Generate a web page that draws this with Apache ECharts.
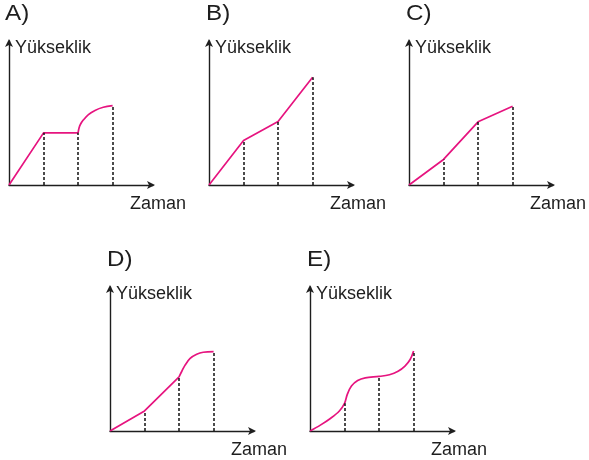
<!DOCTYPE html>
<html>
<head>
<meta charset="utf-8">
<script src="https://cdn.jsdelivr.net/npm/echarts@6/dist/echarts.min.js"></script>
<style>
  html, body { margin: 0; padding: 0; background: #fff; }
  #chart { width: 589px; height: 460px; }
</style>
</head>
<body>
<div id="chart"></div>
<script>
// Five small height-versus-time sketches (A–E)
const panelLabels = ['A)', 'B)', 'C)', 'D)', 'E)'];
const yAxisName = 'Yükseklik';
const xAxisName = 'Zaman';
const dropNodes = [1, 2, 3];

// A: straight rise, level stretch, then a rounded climb
const aStraight = [[0, 0], [1, 1.51], [2, 1.51]];
const aCurve = [[2, 1.51], [2.03, 1.66], [2.07, 1.76], [2.15, 1.88], [2.3, 2.04], [2.49, 2.16], [2.73, 2.25], [3, 2.3]];
// B: three straight pieces, the last one steepest
const bStraight = [[0, 0], [1, 1.29], [2, 1.84], [3, 3.12]];
// C: three straight pieces, the middle one steepest
const cStraight = [[0, 0], [1, 0.74], [2, 1.83], [3, 2.28]];
// D: two straight pieces, then a rounded climb
const dStraight = [[0, 0], [1, 0.58], [2, 1.57]];
const dCurve = [[2, 1.57], [2.08, 1.73], [2.17, 1.9], [2.32, 2.1], [2.51, 2.22], [2.7, 2.28], [3, 2.3]];
// E: one continuous curve
const eCurve = [[0, 0], [0.3, 0.17], [0.6, 0.37], [0.85, 0.58], [1, 0.8], [1.08, 1.06], [1.2, 1.3], [1.38, 1.46],
                [1.6, 1.54], [2, 1.58], [2.3, 1.63], [2.55, 1.73], [2.75, 1.88], [2.9, 2.07], [3, 2.32]];

const panels = [
  { straight: aStraight, curve: aCurve },
  { straight: bStraight, curve: null },
  { straight: cStraight, curve: null },
  { straight: dStraight, curve: dCurve },
  { straight: null, curve: eCurve }
];

// grid boxes (origin is bottom-left)
const boxes = [
  { left: 9, top: 41 },
  { left: 209, top: 41 },
  { left: 409, top: 41 },
  { left: 110, top: 287 },
  { left: 310, top: 287 }
];
const labelPos = [
  [5, 3], [206, 3], [406, 3], [107, 249], [307, 249]
];

const AX_MAX = 4.17;
const MAGENTA = '#e6147f';
const INK = '#1e1e1e';
const FONT = '"Liberation Sans", Arial, sans-serif';

function heightAt(p, x) {
  const all = [].concat(p.straight || [], p.curve || []);
  for (const pt of all) if (Math.abs(pt[0] - x) < 1e-9) return pt[1];
  return 0;
}

const option = {
  animation: false,
  backgroundColor: '#ffffff',
  graphic: panelLabels.map((t, i) => ({
    type: 'text',
    x: labelPos[i][0],
    y: labelPos[i][1],
    scaleX: 1.1,
    style: { text: t, font: '22px ' + FONT, fill: INK, textVerticalAlign: 'top' }
  })),
  grid: boxes.map(b => ({ left: b.left, top: b.top, width: 144, height: 144, containLabel: false })),
  xAxis: boxes.map((b, i) => ({
    gridIndex: i, type: 'value', min: 0, max: AX_MAX,
    axisLine: { show: true, onZero: false, symbol: ['none', 'arrow'], symbolSize: [6, 8], symbolOffset: [0, 2],
                lineStyle: { color: INK, width: 1.4 } },
    axisTick: { show: false }, axisLabel: { show: false }, splitLine: { show: false },
    name: xAxisName, nameLocation: 'end', nameGap: -23,
    nameTextStyle: { fontSize: 18, color: INK, fontFamily: FONT, align: 'left', verticalAlign: 'top', padding: [10, 0, 0, 0] }
  })),
  yAxis: boxes.map((b, i) => ({
    gridIndex: i, type: 'value', min: 0, max: AX_MAX,
    axisLine: { show: true, onZero: false, symbol: ['none', 'arrow'], symbolSize: [6, 8], symbolOffset: [0, 2],
                lineStyle: { color: INK, width: 1.4 } },
    axisTick: { show: false }, axisLabel: { show: false }, splitLine: { show: false },
    name: yAxisName, nameLocation: 'end', nameGap: 2,
    nameTextStyle: { fontSize: 18, color: INK, fontFamily: FONT, align: 'left', verticalAlign: 'top', padding: [0, 0, 0, 6] }
  })),
  series: []
};

panels.forEach((p, i) => {
  const drops = dropNodes.map(x => [{ coord: [x, 0] }, { coord: [x, heightAt(p, x)] }]);
  const common = {
    type: 'line', xAxisIndex: i, yAxisIndex: i, showSymbol: false, symbol: 'none',
    lineStyle: { color: MAGENTA, width: 1.7 }, z: 3
  };
  if (p.straight) {
    option.series.push(Object.assign({}, common, { data: p.straight }));
  }
  if (p.curve) {
    option.series.push(Object.assign({}, common, { data: p.curve, smooth: 0.35 }));
  }
  // dotted drop lines from each node down to the time axis
  option.series[option.series.length - 1].markLine = {
    silent: true, symbol: 'none', label: { show: false }, animation: false,
    lineStyle: { color: '#111111', type: [3, 2], width: 1.5 },
    data: drops
  };
});

const chart = echarts.init(document.getElementById('chart'), null, { renderer: 'canvas' });
chart.setOption(option);
</script>
</body>
</html>
